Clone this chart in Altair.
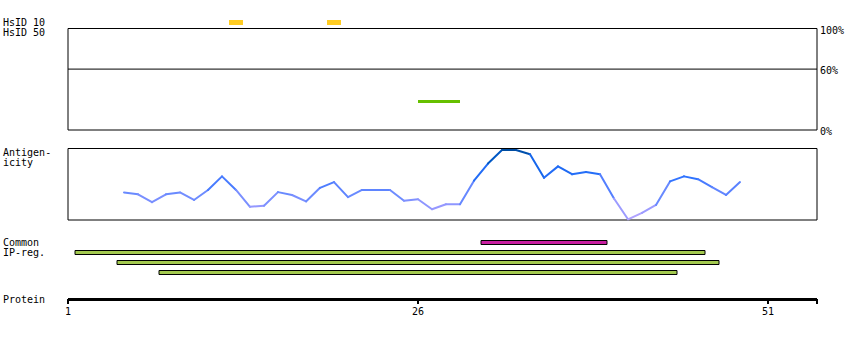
import altair as alt
import pandas as pd

# ---------------- data ----------------
PROT_START = 1
PROT_END = 54.5

hsid10_residues = [13, 20]

hsid50_start = [26]
hsid50_end = [29]
hsid50_value = [28]

pct_ticks = [100, 60, 0]
pct_labels = ["100%", "60%", "0%"]

residues = list(range(5, 50))
antigenicity = [0.385, 0.36, 0.25, 0.36, 0.385, 0.28, 0.42, 0.61, 0.42, 0.185,
                0.20, 0.39, 0.35, 0.26, 0.45, 0.53, 0.32, 0.42, 0.42, 0.42,
                0.27, 0.29, 0.15, 0.22, 0.22, 0.55, 0.79, 0.98, 0.98, 0.92,
                0.59, 0.75, 0.64, 0.67, 0.64, 0.30, 0.01, 0.10, 0.21, 0.54,
                0.61, 0.57, 0.46, 0.35, 0.53]

ipreg_start = [30.5, 1.5, 4.5, 7.5]
ipreg_end = [39.5, 46.5, 47.5, 44.5]
ipreg_kind = ["common", "ip", "ip", "ip"]
ipreg_row = [0, 1, 2, 3]

protein_ticks = [1, 26, 51]
protein_tick_labels = ["1", "26", "51"]

left_labels = ["HsID 10", "HsID 50", "Antigen-", "icity", "Common", "IP-reg.", "Protein"]
left_label_y = [22.5, 32.5, 152.5, 162.5, 242.5, 252.5, 300]

FONT = "DejaVu Sans Mono"

# ---------------- scales ----------------
X = alt.Scale(domain=[PROT_START, PROT_END], range=[68, 817], nice=False, zero=False)
Y_TOP = alt.Scale(domain=[0, 1], range=[25, 20], nice=False, zero=False)
Y_HSID = alt.Scale(domain=[0, 100], range=[130, 28.5], nice=False, zero=False)
Y_ANT = alt.Scale(domain=[0, 1], range=[220, 148.5], nice=False, zero=False)
Y_IP = alt.Scale(domain=[0, 4], range=[240.5, 280.5], nice=False, zero=False)

# ---------------- tables ----------------
frame = pd.DataFrame({"x0": [PROT_START], "x1": [PROT_END],
                      "h0": [0], "h1": [100], "a0": [0], "a1": [1], "mid": [60]})

hs10 = pd.DataFrame({"x0": [r - 0.5 for r in hsid10_residues],
                     "x1": [r + 0.5 for r in hsid10_residues],
                     "y0": [0] * len(hsid10_residues), "y1": [1] * len(hsid10_residues)})

hs50 = pd.DataFrame({"x0": hsid50_start, "x1": hsid50_end, "v": hsid50_value})

pct = pd.DataFrame({"p": pct_ticks, "t": pct_labels})

seg = pd.DataFrame({
    "x0": residues[:-1], "x1": residues[1:],
    "v0": antigenicity[:-1], "v1": antigenicity[1:],
})
seg["c"] = (seg["v0"] + seg["v1"]) / 2

ip = pd.DataFrame({"x0": ipreg_start, "x1": ipreg_end, "kind": ipreg_kind,
                   "r0": ipreg_row, "r1": [r + 0.4 for r in ipreg_row]})

ticks = pd.DataFrame({"x": protein_ticks + [PROT_END],
                      "t": protein_tick_labels + [""]})

NOAX = None

# ---------------- layers ----------------
layers = []

# yellow HsID 10 bars
layers.append(alt.Chart(hs10).mark_rect(color="#ffcc22").encode(
    x=alt.X("x0:Q", scale=X, axis=NOAX), x2="x1:Q",
    y=alt.Y("y0:Q", scale=Y_TOP, axis=NOAX), y2="y1:Q"))

# HsID 50 box
layers.append(alt.Chart(frame).mark_rect(fill=None, fillOpacity=0, stroke="black", strokeWidth=1).encode(
    x=alt.X("x0:Q", scale=X, axis=NOAX), x2="x1:Q",
    y=alt.Y("h0:Q", scale=Y_HSID, axis=NOAX), y2="h1:Q"))
layers.append(alt.Chart(frame).mark_rule(color="black", strokeWidth=1).encode(
    x=alt.X("x0:Q", scale=X, axis=NOAX), x2="x1:Q",
    y=alt.Y("mid:Q", scale=Y_HSID, axis=NOAX)))
layers.append(alt.Chart(hs50).mark_rule(color="#66c000", strokeWidth=3).encode(
    x=alt.X("x0:Q", scale=X, axis=NOAX), x2="x1:Q",
    y=alt.Y("v:Q", scale=Y_HSID, axis=NOAX)))
layers.append(alt.Chart(pct).mark_text(font=FONT, fontSize=10, align="left",
                                       baseline="middle", dy=2, color="black").encode(
    x=alt.value(820),
    y=alt.Y("p:Q", scale=Y_HSID, axis=NOAX),
    text="t:N"))

# Antigenicity box and line
layers.append(alt.Chart(frame).mark_rect(fill=None, fillOpacity=0, stroke="black", strokeWidth=1).encode(
    x=alt.X("x0:Q", scale=X, axis=NOAX), x2="x1:Q",
    y=alt.Y("a0:Q", scale=Y_ANT, axis=NOAX), y2="a1:Q"))
layers.append(alt.Chart(seg).mark_rule(strokeWidth=2, strokeCap="round").encode(
    x=alt.X("x0:Q", scale=X, axis=NOAX), x2="x1:Q",
    y=alt.Y("v0:Q", scale=Y_ANT, axis=NOAX), y2="v1:Q",
    color=alt.Color("c:Q", legend=None,
                    scale=alt.Scale(domain=[0, 0.35, 0.6, 0.8, 1],
                                    range=["#b8a8ff", "#6d8cff", "#2a72ff", "#0d62e6", "#004a99"]))))

# IP regions
layers.append(alt.Chart(ip).mark_rect(stroke="black", strokeWidth=1).encode(
    x=alt.X("x0:Q", scale=X, axis=NOAX), x2="x1:Q",
    y=alt.Y("r0:Q", scale=Y_IP, axis=NOAX), y2="r1:Q",
    fill=alt.Fill("kind:N", legend=None,
                  scale=alt.Scale(domain=["common", "ip"], range=["#c81ea0", "#a3c94f"]))))

# Protein axis
layers.append(alt.Chart(frame).mark_rule(color="black", strokeWidth=3).encode(
    x=alt.X("x0:Q", scale=X, axis=NOAX), x2="x1:Q",
    y=alt.value(299.5)))
layers.append(alt.Chart(ticks).mark_rule(color="black", strokeWidth=2).encode(
    x=alt.X("x:Q", scale=X, axis=NOAX),
    y=alt.value(299), y2=alt.value(304)))
layers.append(alt.Chart(ticks).mark_text(font=FONT, fontSize=10, align="center",
                                         baseline="middle", color="black").encode(
    x=alt.X("x:Q", scale=X, axis=NOAX),
    y=alt.value(312),
    text="t:N"))

# left labels
for lab, yy in zip(left_labels, left_label_y):
    layers.append(alt.Chart(pd.DataFrame({"t": [lab]})).mark_text(
        font=FONT, fontSize=10, align="left", baseline="middle", color="black").encode(
        x=alt.value(3), y=alt.value(yy), text="t:N"))

chart = alt.layer(*layers).resolve_scale(y="independent", color="independent", fill="independent").properties(
    width=850, height=340, padding=0, autosize=alt.AutoSizeParams(type="none"),
    background="white"
).configure_view(stroke=None)

chart.save("out.html", embed_options={"renderer": "svg", "actions": False})
